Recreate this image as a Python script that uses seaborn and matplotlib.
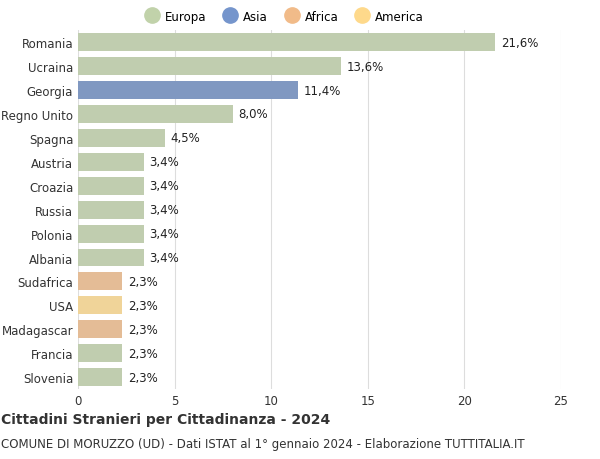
import matplotlib.pyplot as plt
import pandas as pd
import seaborn as sns

COUNTRIES = ["Romania", "Ucraina", "Georgia", "Regno Unito", "Spagna", "Austria", "Croazia",
             "Russia", "Polonia", "Albania", "Sudafrica", "USA", "Madagascar", "Francia", "Slovenia"]
VALUES = [21.6, 13.6, 11.4, 8.0, 4.5, 3.4, 3.4, 3.4, 3.4, 3.4, 2.3, 2.3, 2.3, 2.3, 2.3]
CONTINENTS = ["Europa", "Europa", "Asia", "Europa", "Europa", "Europa", "Europa", "Europa",
              "Europa", "Europa", "Africa", "America", "Africa", "Europa", "Europa"]
PALETTE = {"Europa": "#c1d2aa", "Asia": "#7595cc", "Africa": "#f1bb89", "America": "#fed98b"}

df = pd.DataFrame({"country": COUNTRIES, "value": VALUES, "continent": CONTINENTS})

fig = plt.figure(figsize=(6, 4.6), dpi=100)
ax = fig.add_axes([0.13, 0.152, 0.805, 0.78])
sns.barplot(data=df, x="value", y="country", hue="continent", palette=PALETTE,
            hue_order=list(PALETTE), dodge=False, width=0.75, ax=ax, legend=False)

for i, v in enumerate(VALUES):
    ax.text(v + 0.3, i, f"{v:.1f}%".replace(".", ","), va="center", fontsize=8.5, color="#222222")

ax.set_xlim(0, 25)
ax.set_xticks(range(0, 26, 5))
ax.set_xlabel("")
ax.set_ylabel("")
ax.grid(axis="x", color="#dddddd", linewidth=0.8)
ax.set_axisbelow(True)
for s in ax.spines.values():
    s.set_visible(False)
ax.tick_params(length=0, labelsize=8.5, colors="#333333")

handles = [plt.Line2D([], [], marker="o", linestyle="", markersize=11, color=c) for c in PALETTE.values()]
fig.legend(handles, list(PALETTE), loc="upper center", bbox_to_anchor=(0.47, 1.0), ncol=4,
           frameon=False, fontsize=8.5, handletextpad=0.1, columnspacing=1.0)

fig.text(0.002, 0.048 + 0.03, "Cittadini Stranieri per Cittadinanza - 2024", fontsize=10,
         fontweight="bold", color="#333333")
fig.text(0.002, 0.005 + 0.02, "COMUNE DI MORUZZO (UD) - Dati ISTAT al 1° gennaio 2024 - Elaborazione TUTTITALIA.IT",
         fontsize=8.5, color="#333333")

fig.savefig("out.png", dpi=100)
